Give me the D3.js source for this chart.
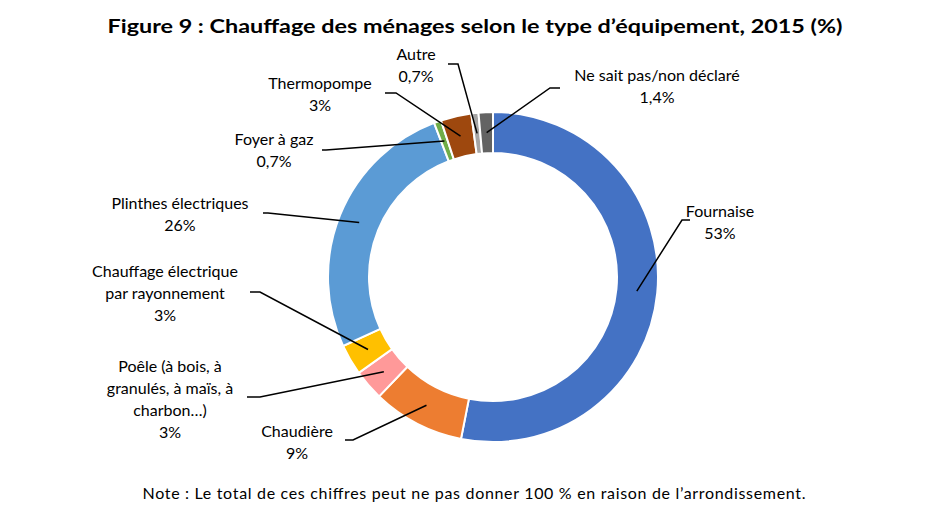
<!DOCTYPE html>
<html>
<head>
<meta charset="utf-8">
<title>Chauffage des ménages</title>
<style>
  body { margin: 0; background: #fff; }
  svg text { font-family: Lato, "Open Sans", sans-serif; fill: #000; }
</style>
</head>
<body>
<div id="chart"></div>
<script src="https://cdn.jsdelivr.net/npm/d3@7"></script>
<script>
// data, clockwise from the top
var categories = ['Fournaise', 'Chaudière', 'Poêle (à bois, à granulés, à maïs, à charbon…)',
  'Chauffage électrique par rayonnement', 'Plinthes électriques', 'Foyer à gaz',
  'Thermopompe', 'Autre', 'Ne sait pas/non déclaré'];
var values = [53, 9, 3, 3, 26, 0.7, 3, 0.7, 1.4];
var valueLabels = ['53%', '9%', '3%', '3%', '26%', '0,7%', '3%', '0,7%', '1,4%'];
var labelLines = [
  ['Fournaise'],
  ['Chaudière'],
  ['Poêle (à bois, à', 'granulés, à maïs, à', 'charbon…)'],
  ['Chauffage électrique', 'par rayonnement'],
  ['Plinthes électriques'],
  ['Foyer à gaz'],
  ['Thermopompe'],
  ['Autre'],
  ['Ne sait pas/non déclaré']
];
var colors = ['#4472C4', '#ED7D31', '#FF9999', '#FFC000', '#5B9BD5', '#70AD47', '#9E480E', '#A5A5A5', '#636363'];

// label layout: text centre x, first baseline y, elbow, end of leader
var labelPos = [
  {x: 720, y: 217, ex: 682, ey: 220, tx: 690},
  {x: 297, y: 437, ex: 353, ey: 440, tx: 345},
  {x: 170, y: 372, ex: 260, ey: 397, tx: 247},
  {x: 165, y: 277, ex: 260, ey: 292, tx: 250},
  {x: 180, y: 209, ex: 268, ey: 213, tx: 263},
  {x: 274, y: 145, ex: 326, ey: 150, tx: 322},
  {x: 320, y: 89, ex: 396, ey: 93, tx: 385},
  {x: 416, y: 60, ex: 458, ey: 64, tx: 448},
  {x: 657, y: 81, ex: 550, ey: 88, tx: 560}
];

var W = 937, H = 506;
var cx = 493, cy = 277, rOut = 165, rIn = 124;
var lineH = 22;

var svg = d3.select('#chart').append('svg')
  .attr('width', W).attr('height', H);

var rows = categories.map(function(c, i) {
  return {name: c, value: values[i], label: valueLabels[i], lines: labelLines[i], color: colors[i], pos: labelPos[i]};
});

var pie = d3.pie().sort(null).value(function(d) { return d.value; })
  .startAngle(0).endAngle(2 * Math.PI);
var arc = d3.arc().innerRadius(rIn).outerRadius(rOut);

var g = svg.append('g').attr('transform', 'translate(' + cx + ',' + cy + ')');
var arcs = pie(rows);

g.selectAll('.slice')
  .data(arcs)
  .enter().append('path')
  .attr('class', 'slice')
  .attr('d', arc)
  .style('fill', function(d) { return d.data.color; })
  .style('stroke', '#fff')
  .style('stroke-width', 2);

// leader lines
var line = d3.line();
svg.selectAll('.leader')
  .data(arcs)
  .enter().append('path')
  .attr('class', 'leader')
  .attr('d', function(d) {
    var c = arc.centroid(d);
    var p = d.data.pos;
    return line([[cx + c[0], cy + c[1]], [p.ex, p.ey], [p.tx, p.ey]]);
  })
  .style('fill', 'none')
  .style('stroke', '#000')
  .style('stroke-width', 1.5);

// labels
var lbl = svg.selectAll('.lbl')
  .data(rows)
  .enter().append('text')
  .attr('class', 'lbl')
  .attr('text-anchor', 'middle')
  .style('font-size', '16px');

lbl.each(function(d) {
  var t = d3.select(this);
  d.lines.concat([d.label]).forEach(function(s, j) {
    t.append('tspan').attr('x', d.pos.x).attr('y', d.pos.y + j * lineH).text(s);
  });
});

svg.append('text')
  .attr('x', 475).attr('y', 33)
  .attr('text-anchor', 'middle')
  .attr('textLength', 735).attr('lengthAdjust', 'spacingAndGlyphs')
  .style('font-size', '19px').style('font-weight', 'bold')
  .text('Figure 9 : Chauffage des ménages selon le type d’équipement, 2015 (%)');

svg.append('text')
  .attr('x', 474).attr('y', 499)
  .attr('text-anchor', 'middle')
  .attr('textLength', 663).attr('lengthAdjust', 'spacing')
  .style('font-size', '16px')
  .text('Note : Le total de ces chiffres peut ne pas donner 100 % en raison de l’arrondissement.');
</script>
</body>
</html>
